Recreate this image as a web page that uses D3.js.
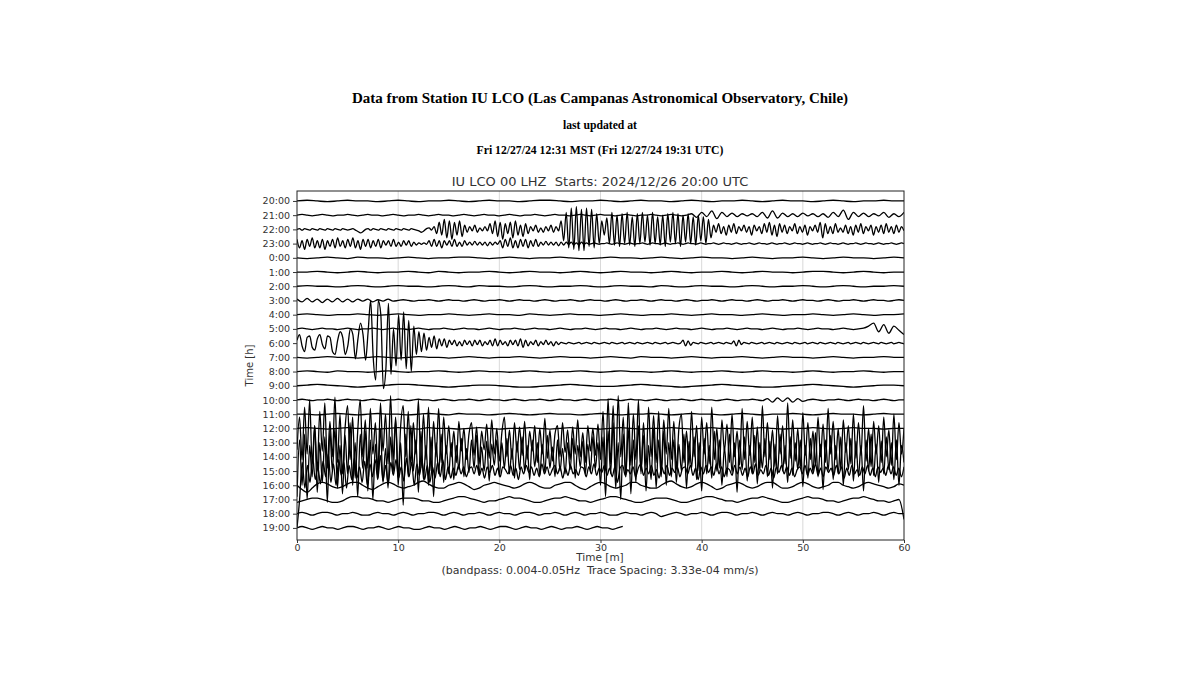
<!DOCTYPE html>
<html><head><meta charset="utf-8">
<script src="https://cdn.jsdelivr.net/npm/d3@7"></script>
<style>body{margin:0;background:#fff;} svg{display:block;} text{white-space:pre;}</style>
</head><body>
<svg id="chart" width="1200" height="675"></svg>
<script>
// ---------------- DATA ----------------
const rowLabels = ["20:00","21:00","22:00","23:00","0:00","1:00","2:00","3:00","4:00","5:00","6:00","7:00","8:00","9:00","10:00","11:00","12:00","13:00","14:00","15:00","16:00","17:00","18:00","19:00"];
const xTicks = [0,10,20,30,40,50,60];
const gridMinutes = [10,20,30,40,50];
// minute at which each trace ends
const traceEnd = [60,60,60,60,60,60,60,60,60,60,60,60,60,60,60,60,60,60,60,60,60,60,60,32.2];
// amplitudes in tenths of a trace spacing (positive = up)
const tr20 = [0,.5,0,-.5,0,.5,0,0,-.5,0,.5,0,-.5,0,0,.5,0,-.5,0,.5,0,0,-.5,0,.5,.5,0,-.5,0,0,.5,0,-.5,0,.5,0,0,-.5,0,.5,0,-.5,0,0,.5,0,-.5,0,.5,0,0,-.5,0,.5,0,-.5,0,0,.5,0,0];
const tr21 = [0,.5,0,-.5,0,.5,0,-.5,0,0,.5,0,-.5,0,.5,0,0,-.5,0,.5,0,-.5,0,0,.5,0,-.5,0,.5,0,0,-.5,0,.5,0,-.5,0,.5,0,0,-.5,0,.5,0,-.5,0,0,.5,0,-.5,0,.5,0,0,-.5,0,.5,0,-.5,0,.5,0,0,-.5,0,.5,0,-.5,0,0,.5,0,-.5,0,.5,0,-.5,0,
  1,-1.5,2,-1,3,-2.5,2,-1,1.5,-1,1,-.5,1,-1,2,-2,3,-2,1.5,-1,1,-1,1.5,-.5,1,-1,1,-1.5,2,-1,3.5,-3,2,-1,1.5,-1,1,-.5,2,-1.5,1,-1,2];
const tr22 = [0,.5,-.5,.5,0,-.5,.5,0,-.5,.5,0,-.5,.5,0,-.5,.5,0,-.5,.5,0,-.5,0,.5,-.5,
  -1.5,-2.5,-1.5,0,
  .5,-.5,.5,0,-.5,.5,0,-.5,.5,0,-.5,.5,0,-.5,.5,0,-.5,.5,0,-.5,
  -1,-2,-1,.5,1,-.5,
  2,-3,5,-4,7,-6,6,-7,5,-4,6,-5,3,-2,
  2,-1,3,-2,1,-1,2,-1,
  4,-3,6,-5,5,-7,4,-3,5,-6,6,-4,3,-5,4,-3,
  2,-1,3,-2,1,-2,2,-1,3,-2,2,-1,
  6,-8,12,-13,15,-14,16,-15,14,-15,15,-12,14,-13,11,-10,6,-4,8,-10,
  12,-11,10,-12,11,-10,12,-11,9,-12,11,-10,12,-9,10,-11,12,-10,9,-11,10,-12,11,-9,12,-10,11,-12,10,-9,11,-10,9,-11,10,-8,9,-10,7,-6,
  3,-2,4,-3,2,-4,3,-2,4,-3,2,-1,
  3,-2,2,-4,3,-1,2,-3,4,-2,5,-4,3,-5,4,-2,3,-3,2,-1,4,-3,2,-2,3,-4,2,-1,3,-2,5,-6,4,-3,2,-3,4,-2,1,-2,3,-3,2,-4,3,-2,4,-3,2,-1,3,-4,2,-2,3,-3,4,-2,2,-3,3,-2,2,-1];
const tr23 = [3,-3,2,-4,3,-2,4,-3,2,-3,3,-4,2,-2,3,-3,4,-2,2,-3,3,-2,4,-3,2,-4,3,-2,3,-3,2,-2,3,-3,2,-1,2,-2,3,-2,1,-2,2,-1,2,-2,1,-1,
  .5,-.5,.5,-.5,
  2,-2,3,-2,2,-3,2,-1,2,-2,3,-2,1,-2,2,-1,
  1,-1,1.5,-1,1,-1,1,-1.5,1,-1,1,-.5,
  2,-3,3,-2,4,-3,2,-3,3,-2,3,-3,2,-2,3,-2,
  1,-1,1.5,-1,1,-1,1,-1.5,1,-1,1,-.5,1,-1,.5,-1,1,-.5,.5,-.5,
  0,.5,0,-.5,0,0,.5,0,-.5,0,.5,0,0,-.5,0,.5,0,-.5,0,0,.5,0,-.5,0,.5,0,0,-.5,0,.5,0,-.5,
  0,0,.5,0,-.5,0,.5,0,0,-.5,0,.5,0,-.5,0,0,.5,0,-.5,0,.5,0,0,-.5,0,.5,0,-.5,0,0,.5,0,
  -.5,0,.5,0,0,-.5,0,.5,0,-.5,0,0,.5,0,-.5,0,.5,0,0,-.5,0,.5,0,-.5,0,0,.5,0,-.5,0,.5,0,
  0,-.5,0,.5,0,-.5,0,0,.5,0,-.5,0,.5,0,0,-.5,0,.5,0,-.5,0,0,.5,0,-.5,0,.5,0];
const tr00 = [0,-.5,0,.5,0,-.5,.5,0,0,-.5,0,.5,0,-.5,0,0,.5,.5,0,-.5,0,.5,0,-.5,0,0,.5,0,-.5,-.5,0,.5,0,0,-.5,0,.5,0,-.5,0,.5,0,0,-.5,0,.5,0,-.5,0,0,.5,0,-.5,0,.5,0,0,-.5,0,.5,0];
const tr01 = [0,0,.5,0,-.5,0,.5,0,-.5,0,0,.5,0,-.5,.5,0,-.5,0,0,.5,0,-.5,0,.5,0,0,-.5,0,.5,0,-.5,0,.5,0,0,-.5,0,.5,0,-.5,0,0,.5,0,-.5,0,.5,0,0,-.5,0,.5,.5,0,-.5,0,.5,0,-.5,0,0];
const tr02 = [0,.5,0,0,-.5,0,.5,0,-.5,0,.5,0,0,-.5,0,.5,0,-.5,.5,0,0,-.5,0,.5,0,-.5,0,0,.5,0,-.5,0,.5,0,0,-.5,.5,0,-.5,0,.5,0,0,-.5,0,.5,0,-.5,0,0,.5,0,-.5,0,.5,0,-.5,0,0,.5,0];
const tr03 = [1,-1,1.5,-1,1,-1.5,1,-1,1.5,-1,1,-1,1,-.5,1,-1,.5,-.5,1,-.5,
  0,.5,0,-.5,0,0,.5,0,-.5,0,.5,0,0,-.5,0,.5,0,-.5,0,0,.5,0,-.5,0,.5,0,0,-.5,0,.5,0,-.5,
  0,0,.5,0,-.5,0,.5,0,0,-.5,0,.5,0,-.5,0,0,.5,0,-.5,0,.5,0,0,-.5,0,.5,0,-.5,0,0,.5,0,
  -.5,0,.5,0,0,-.5,0,.5,0,-.5,0,0,.5,0,-.5,0,.5,0,0,-.5,0,.5,0,-.5,0,0,.5,0,-.5,0,.5,0,0,-.5,0,.5,0];
const tr04 = [0,.5,0,-.5,0,0,.5,0,-.5,0,.5,0,-.5,0,0,.5,0,-.5,0,.5,0,0,-.5,.5,0,-.5,0,.5,0,0,-.5,0,.5,0,-.5,0,0,.5,0,-.5,0,.5,0,0,-.5,0,.5,0,-.5,0,0,.5,0,-.5,0,.5,0,-.5,0,0,.5];
const tr05 = [0,.5,0,-.5,0,.5,0,0,-.5,0,.5,0,-.5,0,0,.5,0,-.5,0,.5,0,0,-.5,0,.5,0,-.5,0,0,.5,0,-.5,
  0,.5,0,0,-.5,0,.5,0,-.5,0,0,.5,0,-.5,0,.5,0,0,-.5,0,.5,0,-.5,0,0,.5,0,-.5,0,.5,0,0,
  -.5,0,.5,0,-.5,0,0,.5,0,-.5,0,.5,0,0,-.5,0,.5,0,-.5,0,0,.5,0,-.5,0,.5,0,0,-.5,0,.5,0,
  -.5,0,0,.5,0,-.5,0,.5,0,0,-.5,0,.5,0,-.5,0,.5,
  2,4,-2,3,-3,2,-1,-4];
const tr06 = [2,6,-2,-6,4,5,-3,-5,3,6,-1,-4,5,4,-6,-8,
  2,8,4,-8,-2,10,6,-11,
  3,14,6,-12,
  8,30,-10,-26,30,20,-32,-18,28,-22,
  10,-16,20,-12,22,-18,16,-20,12,-8,
  8,-6,7,-5,
  4,-3,5,-4,3,-2,3,-3,
  2,-1,2,-2,1,-2,2,-1,1.5,-2,2,-1,2,-2,1,-1,2,-2,3,-2,2,-1,1,-2,2,-1,2,-2,3,-3,2,-2,1,-1,2,-2,1,-1,2,-1,1,-2,1,-1,
  .5,0,-.5,.5,0,-.5,0,.5,-.5,0,.5,0,-.5,.5,0,-.5,0,.5,0,-.5,.5,0,-.5,0,.5,-.5,0,.5,0,-.5,.5,0,-.5,0,.5,0,-.5,.5,0,-.5,0,.5,-.5,0,.5,0,-.5,0,
  2,-2,1.5,-1.5,
  .5,0,-.5,.5,0,-.5,0,.5,-.5,0,.5,0,-.5,.5,0,-.5,
  1.5,-2,2,-1,
  .5,0,-.5,.5,0,-.5,0,.5,-.5,0,.5,0,-.5,.5,0,-.5,0,.5,0,-.5,.5,0,-.5,0,.5,-.5,0,.5,0,-.5,.5,0,
  -.5,0,.5,0,-.5,.5,0,-.5,0,.5,-.5,0,.5,0,-.5,.5,0,-.5,0,.5,0,-.5,.5,0,-.5,0,.5,-.5,0,.5,0,-.5];
const tr07 = [0,-.5,0,.5,0,0,-.5,0,.5,0,-.5,0,.5,0,0,-.5,0,.5,0,-.5,0,0,.5,0,-.5,0,.5,0,0,-.5,0,.5,0,-.5,.5,0,0,-.5,0,.5,0,-.5,0,0,.5,0,-.5,0,.5,0,0,-.5,0,.5,0,-.5,0,0,.5,0,0];
const tr08 = [0,.5,0,-.5,.5,0,0,-.5,0,.5,0,-.5,0,0,.5,0,-.5,0,.5,0,0,-.5,0,.5,0,-.5,0,0,.5,0,-.5,0,.5,0,0,-.5,0,.5,0,-.5,0,0,.5,0,-.5,0,.5,0,0,-.5,0,.5,0,-.5,0,0,.5,0,-.5,0,0];
const tr09 = [0,.5,1,.5,0,-.5,-1,-.5,0,.5,1,1,.5,0,-.5,-1,-.5,0,.5,.5,0,-.5,-1,-1,-.5,0,.5,1,.5,0,-.5,-.5,0,.5,1,.5,0,-.5,-1,-.5,0,.5,1,.5,0,-.5,-1,-1,-.5,0,.5,1,.5,0,-.5,-1,-.5,0,.5,.5,0];
const tr10 = [0,.5,0,-.5,0,0,.5,0,-.5,0,.5,0,0,-.5,0,.5,0,-.5,0,0,.5,0,-.5,0,.5,0,0,-.5,0,.5,0,-.5,
  0,0,.5,0,-.5,0,.5,0,0,-.5,0,.5,0,-.5,0,0,.5,0,-.5,0,.5,0,0,-.5,0,.5,0,-.5,0,0,.5,0,
  -.5,0,.5,0,0,-.5,0,.5,0,-.5,0,0,.5,0,-.5,0,.5,0,0,-.5,0,.5,0,-.5,0,0,.5,0,-.5,
  1,-1.5,1.5,-1,1.5,-1.5,1,-1,
  0,.5,0,-.5,0,0,.5,0,-.5,0,.5,0,0,-.5,0,.5,0,-.5,0,0];
const tr11 = [0,0,-.5,0,.5,0,-.5,0,.5,0,0,-.5,0,.5,0,-.5,.5,0,0,-.5,0,.5,0,-.5,0,.5,0,0,-.5,0,.5,0,-.5,0,0,.5,0,-.5,0,.5,0,0,-.5,0,.5,0,-.5,0,0,.5,0,-.5,0,.5,0,0,-.5,0,.5,0,0];
const tr12 = [0,.5,0,-.5,0,.5,0,0,-.5,0,.5,0,-.5,.5,0,0,-.5,0,.5,0,-.5,0,0,.5,0,-.5,0,.5,0,0,-.5,0,.5,0,-.5,0,0,.5,0,-.5,0,.5,0,0,-.5,0,.5,0,-.5,0,0,.5,0,-.5,0,.5,0,0,-.5,0,0];
const tr13 = [-5,18,-12,25,-8,30,-15,12,-20,22,-6,28,-18,15,-10,32,-14,20,-22,10,26,-12,18,-25,8,30,-10,16,-18,24,-8,14,-20,28,-6,20,-15,33,-12,18,-24,12,26,-10,22,-16,14,-8,30,-18,20,-12,25,-20,15,-10,24,-14,18,-8,
  12,-10,8,-14,15,-6,10,-12,6,14,-9,11,-15,8,-5,13,-11,16,-8,10,-13,7,18,-10,9,-12,14,-7,11,-9,15,-12,8,-6,12,-14,10,-8,17,-11,9,-13,6,12,-10,14,-7,9,-12,11,-8,16,-10,7,-14,12,-6,10,-9,13,
  -12,22,-18,31,-15,26,-20,33,-10,18,-24,28,-16,20,-12,30,-22,14,-18,25,-10,19,-14,22,-20,16,-8,24,
  -12,15,-18,10,20,-14,8,-16,22,-10,12,-20,18,-8,14,-15,25,-12,10,-18,16,-6,13,-14,20,-10,8,-16,24,-12,15,-9,18,-14,11,-20,26,-10,14,-12,9,-17,19,-8,12,-15,28,-11,16,-13,10,-18,21,-9,14,-12,8,-16,18,-10,13,-14,24,-8,15,-12,10,-19,16,-7,12,-15,20,-11,14,-9,26,-13,10,-17,15,-8,12,-14,18,-10,9,-16,20,-12,14,-8,10];
const tr14 = [-28,12,-20,16,-30,8,-14,22,-25,10,-18,14,-32,18,-10,20,-22,8,-26,15,-12,24,-20,10,-28,16,-8,18,-24,12,-30,9,-15,20,-18,6,-22,14,-12,26,-20,10,-34,16,-14,22,-10,12,-25,18,-16,8,-20,14,-28,10,-12,16,-18,8,
  -12,10,-16,8,-9,13,-14,6,-11,12,-8,15,-13,7,-10,11,-17,9,-6,12,-14,10,-8,13,-12,6,-15,11,-9,14,-10,8,-16,12,-7,10,-13,9,-11,15,-8,7,-14,12,-10,6,-12,10,-9,13,-15,8,-7,11,-12,9,-10,14,-8,10,
  -20,14,-28,18,-12,24,-22,10,-30,16,-14,20,-26,12,-18,22,-10,15,-24,8,-16,20,-22,12,-14,18,-20,10,
  -14,12,-18,9,-10,16,-22,11,-8,14,-16,10,-24,13,-12,8,-15,18,-10,12,-20,7,-14,16,-11,10,-25,12,-9,14,-17,8,-12,15,-19,10,-8,13,-14,11,-22,9,-12,16,-10,8,-18,14,-13,10,-9,12,-21,8,-15,13,-11,17,-14,9,-23,12,-10,15,-16,8,-12,14,-20,10,-9,13,-17,11,-14,8,-24,12,-10,16,-13,9,-18,11,-12,14,-9,10,-16,12,-20,8,-4];
const tr15 = [-40,-20,6,-12,4,-8,10,-6,3,-9,7,-4,12,-8,5,-10,8,-3,6,-12,4,-6,9,-5,3,-8,7,-10,5,-4,8,-6,11,-7,4,-9,6,-3,8,-5,3,-7,9,-4,6,-10,5,-3,7,-6,4,-8,3,-5,6,-4,8,-6,3,-5,
  2,-3,4,-2,3,-4,1,3,-2,4,-3,2,-5,3,-1,4,-3,2,-4,3,1,-2,4,-3,2,-6,3,-2,4,-1,3,-3,2,-4,5,-2,3,-3,1,4,-2,3,-5,2,-3,4,-2,1,-3,3,2,-4,3,-2,5,-3,2,-1,4,-3,2,-4,3,-8,2,4,-3,1,-2,3,-4,2,5,-3,2,-2,4,-3,1,-5,3,-2,4,-3,2,-1,3,-4,2,3,-2,4,-3,2,-6,3,-2,4,-1,3,-3,5,-2,3,-4,2,1,-3,4,-2,3,-3,2,-4,3,-2,5,-3,1,-2,4,-3,2,-5,3,-1,4,-2,3,-3,2,-4,1,3,-2,4,-3,2,-2,5,-3,2,-4,3,-1,2,-3,4,-2,3,-5,2,-3,4,-2,1,-3,3,-2,4,-3,2,-4,3,-1,2,-3,4,-2,3,-3,2,-4,3];
const tr16 = [0,-3,-5,-2,1,2,1,-1,-2,-1,1,2,2,0,-2,-3,-1,1,2,1,-1,-2,-1,0,2,3,1,-1,-2,-2,0,1,2,1,-1,-3,-2,0,1,2,1,0,-1,-2,-1,1,2,1,-1,-2,-2,0,1,2,2,0,-2,-3,-1,1,2,1,-1,-2,-1,0,2,2,0,-1,-2,-2,0,2,3,1,-1,-2,-1,1,2,1,-1,-3,-2,0,1,2,1,-1,-2,-1,1,2,2,0,-2,-2,-1,1,2,1,-1,-2,-1,0,2,2,0,-1,-2,-1,1,2,1,0,-1,-2,-1,1,0];
const tr17 = [-2,-1,0,1,1,0,-1,-2,-2,-1,1,2,2,1,1,0,-1,-1,-2,-1,0,1,1,1,0,-1,-1,-2,-2,-1,0,1,2,2,1,0,-1,-2,-1,-1,0,1,2,1,1,0,-1,-2,-2,-1,0,1,1,2,1,0,-1,-1,-2,-1,0,1,2,2,1,0,-1,-2,-2,-1,0,1,1,1,0,-1,-2,-2,-1,0,1,2,2,1,0,-1,-1,-2,-1,0,1,1,2,1,0,-1,-2,-2,-1,0,1,2,1,1,0,-1,-1,-2,-1,0,1,1,2,1,0,-1,-1,-2,-1,0,-14];
const tr18 = [0,1,0,-1,0,1,1,0,-1,0,0,1,0,-1,-1,0,1,0,0,-1,0,1,0,-1,0,0,1,1,0,-1,0,1,0,-1,0,0,1,0,-1,0,1,0,0,-1,0,1,1,0,-1,0,0,1,0,-1,0,1,0,-1,0,0,1,0,-1,-1,0,1,0,0,-1,0,1,0,-2,-1,0,1,0,-1,0,0,1,0,-1,0,1,1,0,-1,0,0,1,0,-1,0,1,0,0,-1,0,1,0,-1,0,0,1,1,0,-1,0,1,0,-1,0,0,1,0,-1,0,1,0,0];
const tr19 = [0,1,0,-1,0,1,0,0,-1,0,1,1,0,-1,0,0,1,0,-1,0,1,0,0,-1,-1,0,1,0,0,-1,0,1,0,-1,0,0,1,0,-1,0,1,1,0,-1,0,1,0,0,-1,0,1,0,-1,0,0,1,0,-1,0,1,0,0,-1,0,1];
const traces = [tr20,tr21,tr22,tr23,tr00,tr01,tr02,tr03,tr04,tr05,tr06,tr07,tr08,tr09,tr10,tr11,tr12,tr13,tr14,tr15,tr16,tr17,tr18,tr19];

// ---------------- DRAW ----------------
const svg = d3.select("#chart");
const W = 1200, H = 675;
svg.append("rect").attr("width", W).attr("height", H).attr("fill", "#fff");

const plot = {left: 297, right: 904, top: 191, bottom: 540};
const x = d3.scaleLinear().domain([0, 60]).range([plot.left, plot.right]);
const y = d3.scaleLinear().domain([-0.7, 23.85]).range([plot.top, plot.bottom]);

const serif = "'Liberation Serif','Times New Roman',serif";
const sans = "'DejaVu Sans',sans-serif";

// header text
svg.append("text").attr("x", 600).attr("y", 103).attr("text-anchor", "middle")
  .attr("font-family", serif).attr("font-weight", "bold").attr("font-size", 15).attr("fill", "#000")
  .text("Data from Station IU LCO (Las Campanas Astronomical Observatory, Chile)");
svg.append("text").attr("x", 600).attr("y", 129).attr("text-anchor", "middle")
  .attr("font-family", serif).attr("font-weight", "bold").attr("font-size", 11.7).attr("fill", "#000")
  .text("last updated at");
svg.append("text").attr("x", 600).attr("y", 154).attr("text-anchor", "middle")
  .attr("font-family", serif).attr("font-weight", "bold").attr("font-size", 11.7).attr("fill", "#000")
  .text("Fri 12/27/24 12:31 MST (Fri 12/27/24 19:31 UTC)");

// axes title
svg.append("text").attr("x", 600).attr("y", 186).attr("text-anchor", "middle")
  .attr("font-family", sans).attr("font-size", 13).attr("fill", "#333")
  .text("IU LCO 00 LHZ  Starts: 2024/12/26 20:00 UTC");

// grid lines
svg.append("g").selectAll("line").data(gridMinutes).join("line")
  .attr("x1", d => x(d)).attr("x2", d => x(d))
  .attr("y1", plot.top).attr("y2", plot.bottom)
  .attr("stroke", "#cfcfcf").attr("stroke-width", 0.8);

// clip
svg.append("clipPath").attr("id", "clip").append("rect")
  .attr("x", plot.left).attr("y", plot.top)
  .attr("width", plot.right - plot.left).attr("height", plot.bottom - plot.top);

const line = d3.line().curve(d3.curveMonotoneX);
const tg = svg.append("g").attr("clip-path", "url(#clip)");
traces.forEach((vals, r) => {
  const end = traceEnd[r];
  const n = vals.length;
  const pts = vals.map((v, i) => [x(i / (n - 1) * end), y(r - v / 10)]);
  tg.append("path").attr("d", line(pts))
    .attr("fill", "none").attr("stroke", "#000").attr("stroke-width", 1.3)
    .attr("stroke-linejoin", "round");
});

// frame
svg.append("rect").attr("x", plot.left).attr("y", plot.top)
  .attr("width", plot.right - plot.left).attr("height", plot.bottom - plot.top)
  .attr("fill", "none").attr("stroke", "#222").attr("stroke-width", 1);

// y axis
const yAxis = d3.axisLeft(y).tickValues(d3.range(rowLabels.length))
  .tickFormat(i => rowLabels[i]).tickSize(4).tickPadding(3);
const gy = svg.append("g").attr("transform", `translate(${plot.left},0)`).call(yAxis);
gy.select(".domain").remove();
gy.selectAll("text").attr("font-family", sans).attr("font-size", 9.5).attr("fill", "#333");
gy.selectAll("line").attr("stroke", "#333");

// x axis
const xAxis = d3.axisBottom(x).tickValues(xTicks).tickSize(3).tickPadding(1.5);
const gx = svg.append("g").attr("transform", `translate(0,${plot.bottom})`).call(xAxis);
gx.select(".domain").remove();
gx.selectAll("text").attr("font-family", sans).attr("font-size", 9.5).attr("fill", "#333");
gx.selectAll("line").attr("stroke", "#333");

// axis labels
svg.append("text").attr("transform", `translate(253,${(plot.top + plot.bottom) / 2}) rotate(-90)`)
  .attr("text-anchor", "middle").attr("font-family", sans).attr("font-size", 10).attr("fill", "#333")
  .text("Time [h]");
svg.append("text").attr("x", 600).attr("y", 561).attr("text-anchor", "middle")
  .attr("font-family", sans).attr("font-size", 10.5).attr("fill", "#333").text("Time [m]");
svg.append("text").attr("x", 600).attr("y", 573.5).attr("text-anchor", "middle")
  .attr("font-family", sans).attr("font-size", 11).attr("fill", "#333")
  .text("(bandpass: 0.004-0.05Hz  Trace Spacing: 3.33e-04 mm/s)");
</script>
</body></html>
